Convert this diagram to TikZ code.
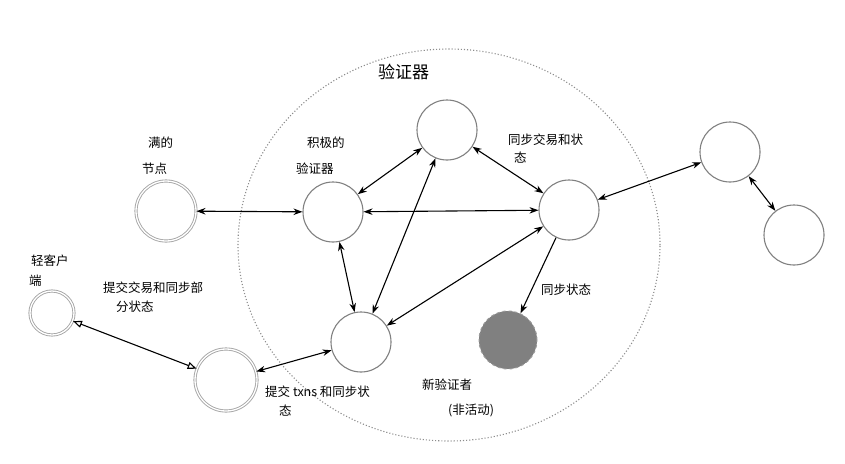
\documentclass[tikz,border=0pt]{standalone}
\usepackage{fontspec}
\setmainfont{Noto Sans CJK SC}
\usetikzlibrary{arrows.meta,shapes.geometric}
\begin{document}
\begin{tikzpicture}[x=1pt,y=-1pt,
  nd/.style={circle,draw=black!50,line width=1.1pt,minimum size=#1,inner sep=0pt},
  nd/.default=60pt,
  dbl/.style={circle,draw=black!35,double=white,double distance=1.3pt,line width=0.9pt,minimum size=#1,inner sep=0pt},
  lab/.style={font=\fontsize{12.5}{14}\selectfont,anchor=west,inner sep=0pt},
  ar/.style={{Stealth[length=9pt,width=6.5pt]}-{Stealth[length=9pt,width=6.5pt]},line width=1.1pt},
  ar1/.style={-{Stealth[length=9pt,width=6.5pt]},line width=1.1pt}]
\useasboundingbox (0,0) rectangle (845,463);
\node[ellipse,draw=black!45,dotted,line width=1.1pt,minimum width=422pt,minimum height=392pt] (big) at (449,245) {};
\node[nd] (A) at (447,130) {};
\node[nd] (B) at (333,212) {};
\node[nd] (C) at (569,210) {};
\node[nd] (D) at (361,342) {};
\node[circle,draw=black!40,dashed,line width=1pt,fill=black!50,minimum size=58pt,inner sep=0pt] (E) at (508,340) {};
\node[dbl=60pt] (F) at (166,211) {};
\node[dbl=44pt] (G) at (52,313) {};
\node[dbl=62pt] (H) at (226,380) {};
\node[nd] (I) at (730,152) {};
\node[nd] (J) at (794,235) {};
\draw[ar] (F) -- (B);
\draw[ar] (B) -- (C);
\draw[ar] (B) -- (A);
\draw[ar] (B) -- (D);
\draw[ar] (A) -- (C);
\draw[ar] (A) -- (D);
\draw[ar] (C) -- (D);
\draw[ar1] (C) -- (E);
\draw[ar] (C) -- (I);
\draw[ar] (I) -- (J);
\draw[ar] (H) -- (D);
\draw[{Triangle[open,length=9pt,width=7pt]}-{Triangle[open,length=9pt,width=7pt]},line width=1.1pt] (G) -- (H);
\node[lab,font=\fontsize{17}{20}\selectfont] (t0) at (378,72) {验证器};
\node[lab] (t1) at (148,143) {满的};
\node[lab] (t2) at (142,169) {节点};
\node[lab] (t3) at (307,143) {积极的};
\node[lab] (t4) at (296,169) {验证器};
\node[lab] (t5) at (508,140) {同步交易和状};
\node[lab] (t6) at (514,158) {态};
\node[lab] (t7) at (31,261) {轻客户};
\node[lab] (t8) at (29,281) {端};
\node[lab] (t9) at (103,288) {提交交易和同步部};
\node[lab] (t10) at (116,307) {分状态};
\node[lab] (t11) at (541,290) {同步状态};
\node[lab] (t12) at (265,392) {提交 txns 和同步状};
\node[lab] (t13) at (279,411) {态};
\node[lab] (t14) at (422,385) {新验证者};
\node[lab] (t15) at (448,410) {(非活动)};
\end{tikzpicture}
\end{document}
